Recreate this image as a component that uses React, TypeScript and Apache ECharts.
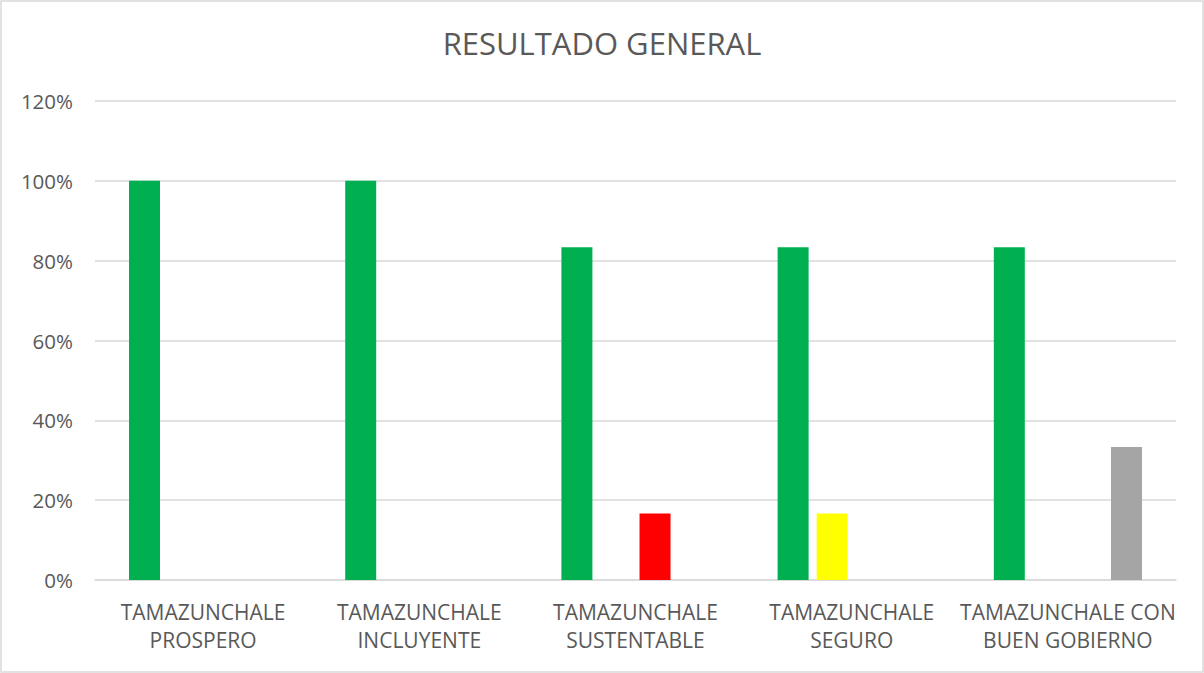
import React, { useEffect, useRef } from "react";
import * as echarts from "echarts";

const categories = [
  "TAMAZUNCHALE\nPROSPERO",
  "TAMAZUNCHALE\nINCLUYENTE",
  "TAMAZUNCHALE\nSUSTENTABLE",
  "TAMAZUNCHALE\nSEGURO",
  "TAMAZUNCHALE CON\nBUEN GOBIERNO",
];
const greenValues = [100, 100, 83.33, 83.33, 83.33];
const yellowValues = [0, 0, 0, 16.67, 0];
const redValues = [0, 0, 16.67, 0, 0];
const grayValues = [0, 0, 0, 0, 33.33];
const yTicks = { min: 0, max: 120, interval: 20 };

const FONT = "'Open Sans', 'Liberation Sans', sans-serif";
const TEXT = "#595959";

export default function App() {
  const ref = useRef<HTMLDivElement>(null);
  useEffect(() => {
    if (!ref.current) return;
    const chart = echarts.init(ref.current, undefined, { renderer: "svg" });
    const mk = (name: string, data: number[], color: string) => ({
      name,
      type: "bar",
      data,
      barWidth: 31,
      barGap: "26%",
      itemStyle: { color },
    });
    chart.setOption({
      animation: false,
      backgroundColor: "#ffffff",
      title: {
        text: "RESULTADO GENERAL",
        left: "center",
        top: 22,
        textStyle: { fontFamily: FONT, fontSize: 31, fontWeight: "normal", color: TEXT },
      },
      graphic: [
        {
          type: "rect",
          shape: { x: 1, y: 1, width: 1202, height: 671 },
          style: { fill: "none", stroke: "#d9d9d9", lineWidth: 1.5 },
          silent: true,
        },
      ],
      grid: { left: 95, right: 28, top: 101, bottom: 93 },
      xAxis: {
        type: "category",
        data: categories,
        axisLine: { show: true, lineStyle: { color: "#d9d9d9", width: 1.5 } },
        axisTick: { show: false },
        axisLabel: {
          interval: 0,
          margin: 18,
          fontFamily: FONT,
          fontSize: 21,
          lineHeight: 28,
          color: TEXT,
        },
      },
      yAxis: {
        type: "value",
        min: yTicks.min,
        max: yTicks.max,
        interval: yTicks.interval,
        axisLine: { show: false },
        axisTick: { show: false },
        splitLine: { lineStyle: { color: "#d9d9d9", width: 1.5 } },
        axisLabel: {
          formatter: "{value}%",
          margin: 22,
          fontFamily: FONT,
          fontSize: 20.5,
          color: TEXT,
        },
      },
      series: [
        mk("Verde", greenValues, "#00B050"),
        mk("Amarillo", yellowValues, "#FFFF00"),
        mk("Rojo", redValues, "#FF0000"),
        mk("Gris", grayValues, "#A5A5A5"),
      ],
    });
    return () => chart.dispose();
  }, []);
  return (
    <div
      ref={ref}
      style={{ position: "absolute", left: 0, top: 0, width: 1204, height: 673 }}
    />
  );
}
